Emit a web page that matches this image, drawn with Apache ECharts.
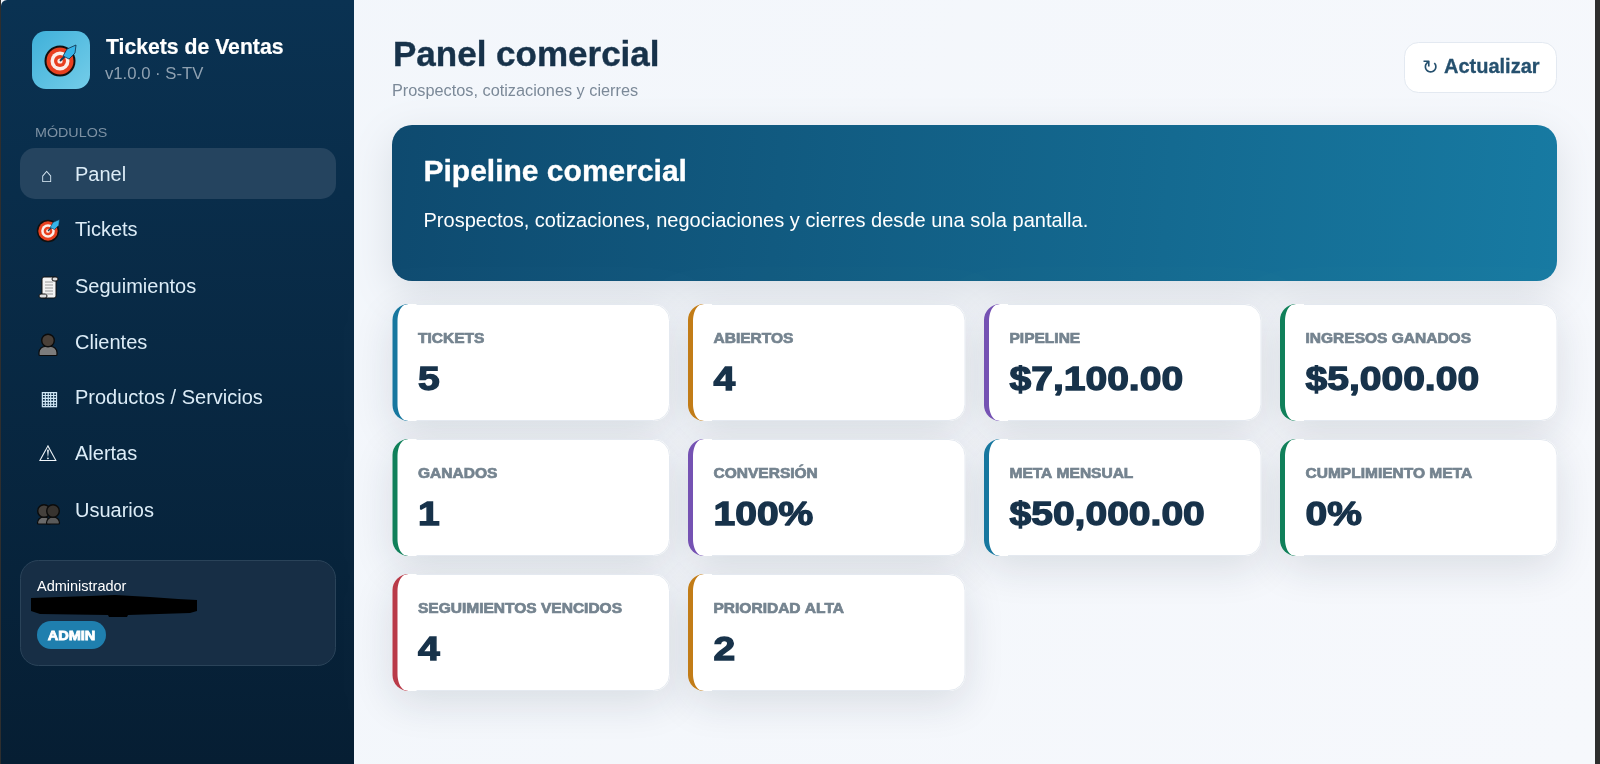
<!DOCTYPE html>
<html lang="es">
<head>
<meta charset="utf-8">
<title>Panel comercial</title>
<style>
  html, body { margin: 0; padding: 0; background: #2e2e2e; }
  #chart { width: 1600px; height: 764px; }
</style>
</head>
<body>
<div id="chart"></div>
<script src="https://cdn.jsdelivr.net/npm/echarts@6/dist/echarts.min.js"></script>
<script>
const navLabels = ["Panel", "Tickets", "Seguimientos", "Clientes", "Productos / Servicios", "Alertas", "Usuarios"];
const cardLabels = ["TICKETS", "ABIERTOS", "PIPELINE", "INGRESOS GANADOS", "GANADOS", "CONVERSIÓN", "META MENSUAL", "CUMPLIMIENTO META", "SEGUIMIENTOS VENCIDOS", "PRIORIDAD ALTA"];
const cardValues = ["5", "4", "$7,100.00", "$5,000.00", "1", "100%", "$50,000.00", "0%", "4", "2"];

const BLUE = "#17779f", AMBER = "#c27c17", PURPLE = "#7552b3", GREEN = "#10805a", RED = "#b93a48";
const cardAccents = [BLUE, AMBER, PURPLE, GREEN, GREEN, PURPLE, BLUE, GREEN, RED, AMBER];
const navBaselines = [181, 236, 293, 349, 404, 460, 517];
const cardCols = [392.5, 688, 984, 1280];
const cardRows = [304, 439, 574];

const SANS = '"Liberation Sans", Arial, sans-serif';
const els = [];

// text placed by its baseline, zrender only gives us the middle line
function label(text, x, baseline, size, weight, fill, extra) {
  const o = extra || {};
  return {
    type: "text",
    x: x,
    y: baseline - size * 0.27,
    originX: 0,
    scaleX: o.scaleX || 1,
    silent: true,
    style: {
      text: text,
      x: 0,
      y: 0,
      fill: fill,
      font: weight + " " + size + "px " + (o.family || SANS),
      textAlign: o.align || "left",
      textVerticalAlign: "middle",
      stroke: o.stroke ? fill : null,
      lineWidth: o.stroke || 0
    }
  };
}

function box(x, y, w, h, r, style) {
  return { type: "rect", silent: true, shape: { x: x, y: y, width: w, height: h, r: r }, style: style };
}

function circle(cx, cy, r, fill, stroke, lw) {
  return { type: "circle", silent: true, shape: { cx: cx, cy: cy, r: r }, style: { fill: fill, stroke: stroke || null, lineWidth: lw || 0 } };
}

function targetIcon(cx, cy, s) {
  return {
    type: "group", x: cx, y: cy, scaleX: s, scaleY: s, silent: true,
    children: [
      circle(0, 0, 15.5, "#101010"),
      circle(0, 0, 13.5, "#e8401f"),
      circle(0, 0, 9.5, "#fbeee8"),
      circle(0, 0, 6, "#e8401f"),
      circle(0, 0, 2.6, "#fbeee8"),
      { type: "line", silent: true, shape: { x1: 0, y1: 0, x2: 8, y2: -8 }, style: { stroke: "#103a5a", lineWidth: 1.8 } },
      { type: "polygon", silent: true, shape: { points: [[3, -5], [7, -12], [16, -16], [15, -8], [9, -2]] }, style: { fill: "#35b4e8", stroke: "#0d2a44", lineWidth: 0.8 } }
    ]
  };
}

function scrollIcon(x, y) {
  const rows = [5, 8, 11, 14, 17];
  return {
    type: "group", x: x, y: y, silent: true,
    children: [
      box(3, 0, 14, 21, 2, { fill: "#f3f3f3", stroke: "#111", lineWidth: 1 }),
      box(13, 0, 6, 4, 2, { fill: "#dedede", stroke: "#111", lineWidth: 1 }),
      box(0, 17, 8, 4, 2, { fill: "#dedede", stroke: "#111", lineWidth: 1 })
    ].concat(rows.map(function (r) {
      return { type: "line", silent: true, shape: { x1: 6, y1: r, x2: 14, y2: r }, style: { stroke: "#9a9a9a", lineWidth: 1 } };
    }))
  };
}

function bust(cx, cy, bodyH, bodyW, fill, head) {
  return [
    box(cx - bodyW / 2, cy + 6, bodyW, bodyH, [6, 6, 1, 1], { fill: fill, stroke: "#0b0b0b", lineWidth: 1.2 }),
    circle(cx, cy, 6.3, head, "#0b0b0b", 1.4)
  ];
}

const CARD_R = 16;

// white part of a card: inner curve of the stripe, then the card's own corner up to the straight edge
function cardInner(x, y, h) {
  const top = [];
  for (let i = 0; i <= 12; i++) {
    const a = (i / 12) * Math.PI / 2;
    top.push([x + 5 + 9 * (1 - Math.cos(a)), 17 - 16.5 * Math.sin(a)]);
  }
  top.push([x + CARD_R, 0]);
  const pts = top.map(function (p) { return [p[0], y + p[1]]; });
  pts.push([x + 24, y], [x + 24, y + h]);
  top.slice().reverse().forEach(function (p) { pts.push([p[0], y + h - p[1]]); });
  return { type: "polygon", silent: true, shape: { points: pts }, style: { fill: "#ffffff" } };
}

// ---- page background and sidebar
els.push(box(1, 0, 1594, 764, 0, {
  fill: new echarts.graphic.LinearGradient(0, 0, 1, 1, [
    { offset: 0, color: "#f2f6fb" },
    { offset: 1, color: "#f6f8fc" }
  ])
}));
els.push(box(1, 0, 353, 764, [6, 0, 0, 0], {
  fill: new echarts.graphic.LinearGradient(0, 0, 0, 1, [
    { offset: 0, color: "#0a3252" },
    { offset: 1, color: "#061e33" }
  ])
}));

// logo
els.push(box(32, 31, 58, 58, 14, {
  fill: new echarts.graphic.LinearGradient(0, 0, 1, 1, [
    { offset: 0, color: "#3fb0d9" },
    { offset: 1, color: "#74cde9" }
  ])
}));
els.push(targetIcon(60, 61, 1));
els.push(label("Tickets de Ventas", 106, 53.5, 21.2, "bold", "#ffffff", { stroke: 0.2 }));
els.push(label("v1.0.0 · S-TV", 105, 78.5, 16.7, "normal", "#8fa1b1"));
els.push(label("MÓDULOS", 35, 137, 13, "normal", "#7d91a3", { scaleX: 1.1 }));

// nav
els.push(box(20, 148, 316, 51, 15, { fill: "#25445f" }));
navLabels.forEach(function (name, i) {
  els.push(label(name, 75, navBaselines[i], 20, "normal", "#dcecf7"));
});
els.push(label("⌂", 41, 182, 20, "normal", "#dcecf7"));
els.push(targetIcon(48, 231, 0.72));
els.push(scrollIcon(39, 277));
els.push({ type: "group", silent: true, children: bust(48, 340.5, 9, 18, "#7c7c7c", "#4a4038") });
els.push(label("▦", 40, 405, 20, "normal", "#cfe6f5", { family: '"DejaVu Sans"' }));
els.push(label("⚠", 38, 461, 22, "normal", "#f2f7fb", { family: '"DejaVu Sans"' }));
els.push({ type: "group", silent: true, children: bust(44, 511, 7, 13, "#6a6a6a", "#44403c").concat(bust(53, 511, 7, 13, "#5a5a5a", "#37332f")) });

// user box
els.push(box(20.5, 560.5, 315, 105, 18, { fill: "#172e45", stroke: "#2a4359", lineWidth: 1 }));
els.push(label("Administrador", 37, 591, 14.5, "normal", "#ffffff"));
els.push({ type: "polygon", silent: true, shape: { points: [[31, 598], [60, 597], [90, 596], [115, 595], [150, 597], [178, 599], [197, 600], [197, 611], [190, 613], [128, 615], [127, 617], [109, 617], [108, 615], [40, 614], [31, 611]] }, style: { fill: "#000000" } });
els.push(box(37, 621, 69, 28, 14, { fill: "#1f7fae" }));
els.push(label("ADMIN", 71.5, 640, 13, "bold", "#ffffff", { align: "center", stroke: 0.8, scaleX: 1.12 }));

// header
els.push(label("Panel comercial", 393, 65.5, 35, "bold", "#17324a", { stroke: 0.4 }));
els.push(label("Prospectos, cotizaciones y cierres", 392, 96, 16.3, "normal", "#7b8998"));
els.push(box(1404.5, 42.5, 152, 50, 14, { fill: "#ffffff", stroke: "#e3e9f1", lineWidth: 1 }));
els.push(label("↻", 1422, 74, 20, "normal", "#25506e", { family: '"DejaVu Sans"' }));
els.push(label("Actualizar", 1444, 73, 20, "bold", "#25506e", { stroke: 0.3 }));

// hero
els.push(box(392, 125, 1165, 156, 20, {
  fill: new echarts.graphic.LinearGradient(0, 0, 1, 0.6, [
    { offset: 0, color: "#0e4a6f" },
    { offset: 1, color: "#177aa2" }
  ]),
  shadowBlur: 40, shadowOffsetY: 12, shadowColor: "rgba(20,40,60,0.12)"
}));
els.push(label("Pipeline comercial", 423.5, 181, 30, "bold", "#ffffff", { stroke: 0.3 }));
els.push(label("Prospectos, cotizaciones, negociaciones y cierres desde una sola pantalla.", 423.5, 227, 20.05, "normal", "#ffffff"));

// stat cards, four per row. shadows first so they never tint a neighbour
const cardW = 277.5, cardH = 117;
cardLabels.forEach(function (name, i) {
  els.push(box(cardCols[i % 4], cardRows[Math.floor(i / 4)], cardW, cardH, CARD_R, {
    fill: "#ffffff",
    shadowBlur: 40, shadowOffsetY: 12, shadowColor: "rgba(20,40,60,0.13)"
  }));
});
cardLabels.forEach(function (name, i) {
  const x = cardCols[i % 4];
  const y = cardRows[Math.floor(i / 4)];
  els.push(box(x + 0.5, y + 0.5, cardW - 1, cardH - 1, CARD_R, { fill: "#ffffff", stroke: "#e4e9f0", lineWidth: 1 }));
  els.push(box(x, y, CARD_R, cardH, [CARD_R, 0, 0, CARD_R], { fill: cardAccents[i] }));
  els.push(cardInner(x, y, cardH));
  els.push(label(name, x + 25.5, y + 39, 14.5, "bold", "#74838f", { stroke: 0.7, scaleX: 1.07 }));
  els.push(label(cardValues[i], x + 25.5, y + 86, 33.5, "bold", "#17324a", { stroke: 1.3, scaleX: 1.165 }));
});

const chart = echarts.init(document.getElementById("chart"));
chart.setOption({ animation: false, graphic: { elements: els } });
window.addEventListener("resize", function () { chart.resize(); });
</script>
</body>
</html>
